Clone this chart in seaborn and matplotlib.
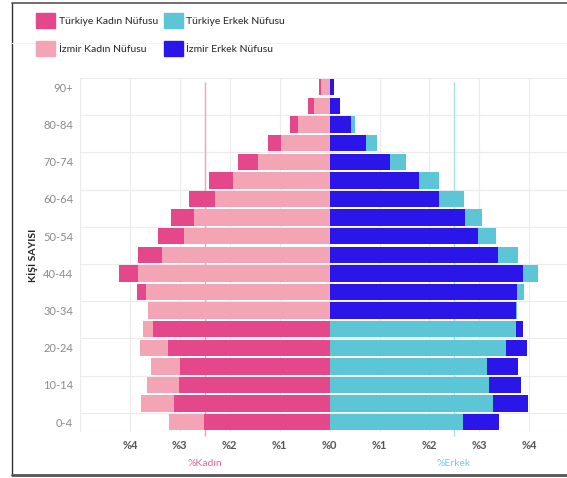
import numpy as np
import matplotlib
matplotlib.use('Agg')
import matplotlib.pyplot as plt
import seaborn as sns
from matplotlib.patches import Patch
from matplotlib.lines import Line2D

ages = ['90+', '85-89', '80-84', '75-79', '70-74', '65-69', '60-64', '55-59', '50-54',
        '45-49', '40-44', '35-39', '30-34', '25-29', '20-24', '15-19', '10-14', '5-9', '0-4']

tr_kadin = [0.22, 0.43, 0.79, 1.24, 1.84, 2.42, 2.82, 3.17, 3.44, 3.83,
            4.22, 3.85, 3.64, 3.53, 3.24, 2.99, 3.02, 3.11, 2.51]
izmir_kadin = [0.18, 0.32, 0.63, 0.97, 1.43, 1.94, 2.29, 2.71, 2.91, 3.35,
               3.83, 3.67, 3.64, 3.74, 3.79, 3.58, 3.65, 3.77, 3.22]
tr_erkek = [0.08, 0.21, 0.51, 0.94, 1.53, 2.19, 2.69, 3.05, 3.33, 3.77,
            4.17, 3.89, 3.75, 3.73, 3.53, 3.15, 3.20, 3.28, 2.68]
izmir_erkek = [0.08, 0.20, 0.43, 0.73, 1.20, 1.78, 2.19, 2.71, 2.98, 3.37,
               3.87, 3.76, 3.73, 3.88, 3.95, 3.78, 3.84, 3.97, 3.39]

x_ticks = [-5, -4, -3, -2, -1, 0, 1, 2, 3, 4]
x_labels = ['', '%4', '%3', '%2', '%1', '%0', '%1', '%2', '%3', '%4']

c_tk = '#e5488a'
c_ik = '#f3a5b6'
c_te = '#5cc6d7'
c_ie = '#2a16e8'

sns.set_style('white')
plt.rcParams['font.family'] = ['Lato', 'DejaVu Sans']

fig = plt.figure(figsize=(5.67, 4.78), dpi=100)
ax = fig.add_axes([80 / 567, 1 - 431.5 / 478, 1 - 80 / 567, (431.5 - 78) / 478])

# grid boxes
for xv in x_ticks:
    ax.axvline(xv, color='#ebebeb', lw=0.8, zorder=0)
for yv in np.arange(-0.5, 19, 2):
    ax.axhline(yv, color='#ebebeb', lw=0.8, zorder=0)
ax.axhline(18.5, color='#ebebeb', lw=0.8, zorder=0)

# reference lines
ax.vlines(-2.5, -0.3, 18.72, color='#f0a3b5', lw=1, zorder=1, clip_on=False)
ax.vlines(2.5, -0.3, 18.72, color='#a6dfe8', lw=1, zorder=1, clip_on=False)

groups = []
for vals, col in [(-np.array(tr_kadin), c_tk), (-np.array(izmir_kadin), c_ik),
                  (np.array(tr_erkek), c_te), (np.array(izmir_erkek), c_ie)]:
    n0 = len(ax.patches)
    sns.barplot(x=vals, y=ages, order=ages, orient='h', color=col, width=0.88,
                saturation=1, linewidth=0, ax=ax)
    groups.append(ax.patches[n0:])

# larger bar behind, smaller in front (Izmir in front on ties)
for tr_p, iz_p, tv, iv in [(groups[0], groups[1], tr_kadin, izmir_kadin),
                           (groups[2], groups[3], tr_erkek, izmir_erkek)]:
    for i in range(len(ages)):
        if tv[i] < iv[i]:
            tr_p[i].set_zorder(3)
            iz_p[i].set_zorder(2)
        else:
            tr_p[i].set_zorder(2)
            iz_p[i].set_zorder(3)

ax.set_xlim(-5, (567 - 329.3) / 50)
ax.set_ylim(18.5, -0.5)
ax.set_xticks(x_ticks)
ax.set_xticklabels(x_labels, fontsize=8, color='#555555', fontweight='bold')
ax.set_yticks(range(0, 19, 2))
ax.set_yticklabels(ages[::2], fontsize=8, color='#8a8a8a')
ax.tick_params(axis='x', length=4, width=0.8, color='#dddddd', pad=2)
ax.tick_params(axis='y', length=0, pad=5)
for s in ax.spines.values():
    s.set_visible(False)
ax.set_xlabel('')
ax.set_ylabel('')

fig.text(33 / 567, 1 - 255 / 478, 'KİŞİ SAYISI', rotation=90, ha='center', va='center',
         fontsize=7.5, fontweight='bold', color='#222222')
fig.text(205 / 567, 1 - 463 / 478, '%Kadın', ha='center', va='center', fontsize=7.5,
         color='#e8679d')
fig.text(454 / 567, 1 - 463 / 478, '%Erkek', ha='center', va='center', fontsize=7.5,
         color='#72cddb')

handles = [Patch(color=c_tk), Patch(color=c_ik), Patch(color=c_te), Patch(color=c_ie)]
labels = ['Türkiye Kadın Nüfusu', 'İzmir Kadın Nüfusu', 'Türkiye Erkek Nüfusu', 'İzmir Erkek Nüfusu']
fig.legend(handles, labels, ncol=2, loc='upper left', bbox_to_anchor=(32 / 567, 1 - 9 / 478),
           frameon=False, fontsize=7.5, handlelength=1.85, handleheight=1.85, handletextpad=0.3,
           columnspacing=0.6, labelspacing=1.2, borderaxespad=0)

# frame around the figure
fig.add_artist(Line2D([12 / 567, 12 / 567], [1 - 3 / 478, 1 - 475 / 478], transform=fig.transFigure,
                      color='#333333', lw=1))
fig.add_artist(Line2D([12 / 567, 1], [1 - 3 / 478, 1 - 3 / 478], transform=fig.transFigure,
                      color='#555555', lw=1.2))
fig.add_artist(Line2D([12 / 567, 1], [1 - 475 / 478, 1 - 475 / 478], transform=fig.transFigure,
                      color='#555555', lw=2))
fig.add_artist(Line2D([12 / 567, 1], [1 - 43 / 478, 1 - 43 / 478], transform=fig.transFigure,
                      color='#f3f3f3', lw=0.8))

fig.savefig('out.png', dpi=100)
